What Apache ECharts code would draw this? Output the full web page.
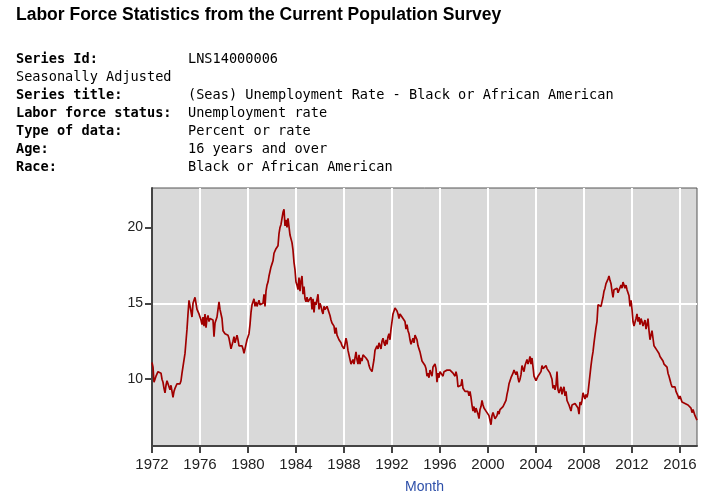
<!DOCTYPE html>
<html>
<head>
<meta charset="utf-8">
<script src="https://cdn.jsdelivr.net/npm/echarts@6/dist/echarts.min.js"></script>
<style>
html,body{margin:0;padding:0;background:#fff;}
#chart{width:705px;height:501px;}
</style>
</head>
<body>
<div id="chart"></div>
<script>
// ---- data (monthly, seasonally adjusted, starting Jan 1972) ----
const startYear = 1972;
const rate1970s = [
  11.1, 10.8, 9.8, 10.0, 10.2, 10.3, 10.5, 10.6, 10.6, 10.4, 10.0, 9.8,
  9.4, 9.1, 9.6, 9.9, 9.7, 9.7, 9.3, 9.6, 9.2, 8.8, 9.2, 9.4,
  9.4, 9.7, 9.6, 9.8, 9.7, 9.9, 10.4, 10.3, 10.5, 11.7, 12.5, 13.3,
  14.3, 15.2, 15.3, 15.1, 14.1, 15.0, 14.9, 15.4, 15.0, 14.6, 14.5, 14.3,
  14.3, 13.9, 13.6, 14.1, 13.5, 14.3, 13.4, 14.0, 14.2, 13.8, 14.0, 13.9,
  14.0, 13.9, 12.8, 13.7, 13.8, 14.1, 14.6, 15.1, 14.6, 14.3, 14.0, 13.2,
  13.1, 13.0, 13.0, 13.0, 12.9, 12.7, 12.8, 12.0, 11.9, 12.5, 12.8, 12.4,
  12.4, 12.9, 12.6, 12.2, 12.3, 12.3, 12.2, 12.0, 11.7, 12.0, 12.1, 12.6
];
const rate1980s = [
  12.7, 13.0, 13.6, 14.4, 14.9, 15.0, 15.3, 14.8, 15.1, 14.8, 15.0, 15.2,
  14.9, 14.8, 14.9, 15.0, 15.6, 14.8, 15.8, 16.2, 16.4, 16.8, 17.1, 17.4,
  17.6, 17.8, 18.3, 18.4, 18.6, 18.7, 18.8, 19.6, 20.0, 20.2, 20.6, 21.0,
  21.2, 20.1, 20.5, 20.0, 20.6, 20.7, 19.5, 19.6, 19.0, 18.5, 17.7, 17.2,
  16.4, 16.2, 15.9, 16.7, 15.8, 16.5, 16.8, 15.6, 16.1, 15.3, 15.1, 15.4,
  15.1, 15.2, 15.0, 15.4, 14.6, 15.3, 14.4, 15.1, 14.9, 15.0, 15.6, 14.6,
  15.0, 14.8, 14.5, 14.3, 14.8, 14.6, 14.5, 14.8, 14.9, 14.4, 14.2, 13.9,
  13.7, 13.8, 13.5, 13.0, 13.4, 12.9, 12.8, 12.6, 12.5, 12.4, 12.2, 12.1,
  12.0, 12.3, 12.7, 12.4, 11.9, 11.8, 11.3, 11.0, 11.1, 11.3, 11.0, 11.4,
  11.8, 11.3, 11.0, 11.6, 11.0, 11.4, 11.2, 11.6, 11.6, 11.5, 11.4, 11.3
];
const rate1990s = [
  11.2, 10.9, 10.7, 10.6, 10.5, 10.4, 11.3, 11.9, 12.0, 12.2, 12.0, 12.4,
  12.3, 12.0, 12.5, 12.7, 12.4, 12.2, 12.6, 12.3, 12.8, 13.0, 12.6, 13.3,
  13.8, 14.3, 14.5, 14.7, 14.6, 14.5, 14.3, 14.0, 14.3, 14.2, 14.4, 14.0,
  13.9, 13.8, 13.3, 13.6, 13.2, 13.0, 12.6, 12.3, 12.5, 12.7, 12.4, 12.9,
  13.0, 12.6, 12.2, 12.0, 11.8, 11.5, 11.2, 11.1, 11.3, 10.9, 10.7, 10.2,
  10.4, 10.1, 10.6, 10.4, 10.2, 10.8, 10.7, 11.0, 10.7, 9.8, 10.4, 10.1,
  10.5, 10.4, 10.6, 10.2, 10.5, 10.5, 10.6, 10.6, 10.7, 10.5, 10.6, 10.6,
  10.7, 10.4, 10.5, 10.2, 10.5, 10.2, 9.5, 9.5, 9.4, 9.6, 10.0, 9.4,
  9.4, 9.2, 9.3, 9.1, 9.2, 8.9, 9.2, 8.8, 8.3, 7.9, 8.2, 7.8,
  8.1, 8.2, 7.7, 7.4, 8.0, 8.2, 8.6, 8.3, 8.1, 8.2, 7.9, 7.8
];
const rate2000s = [
  8.0, 7.6, 7.3, 7.0, 7.6, 7.8, 7.9, 7.4, 7.3, 7.6, 7.9, 7.7,
  8.0, 8.1, 7.9, 8.2, 8.2, 8.3, 8.6, 9.0, 9.3, 9.7, 9.9, 10.1,
  10.2, 10.4, 10.6, 10.5, 10.3, 10.5, 10.1, 9.8, 10.0, 10.3, 10.9, 10.7,
  10.5, 10.9, 10.8, 11.3, 11.0, 11.2, 11.5, 11.0, 11.4, 11.4, 10.2, 10.1,
  9.9, 10.0, 10.2, 10.3, 10.2, 10.5, 10.9, 10.7, 10.8, 10.6, 10.9, 10.7,
  10.7, 10.7, 10.4, 10.2, 10.0, 9.4, 9.6, 9.3, 9.6, 10.5, 9.3, 9.1,
  9.2, 9.5, 9.0, 9.3, 9.5, 8.9, 9.2, 8.6, 8.5, 8.3, 8.4, 7.9,
  8.3, 8.4, 8.3, 8.4, 8.5, 8.3, 8.1, 7.7, 8.5, 8.3, 8.6, 9.1,
  9.0, 8.7, 9.0, 8.8, 9.1, 9.7, 10.3, 10.9, 11.4, 11.8, 12.4, 12.9,
  13.4, 13.8, 14.9, 15.0, 14.9, 14.8, 14.8, 15.4, 15.8, 16.0, 16.3, 16.3
];
const rate2010s = [
  16.6, 16.8, 16.5, 16.3, 15.8, 15.4, 15.9, 16.0, 15.9, 16.0, 15.7, 15.6,
  15.8, 16.2, 16.0, 16.4, 16.2, 16.0, 16.2, 15.9, 16.0, 15.5, 14.8, 15.2,
  14.6, 13.8, 13.5, 13.6, 14.0, 14.3, 13.8, 14.1, 13.6, 14.0, 13.8, 13.5,
  13.6, 13.9, 13.3, 13.6, 14.0, 13.2, 12.6, 12.9, 13.2, 12.7, 12.2, 12.1,
  12.2, 11.9, 11.8, 11.7, 11.5, 11.4, 11.5, 11.2, 11.0, 10.9, 11.0, 10.8,
  10.4, 10.2, 10.3, 9.7, 9.5, 9.6, 9.4, 9.5, 9.2, 9.3, 8.9, 8.7,
  8.9, 8.8, 8.5, 8.4, 8.6, 8.4, 8.4, 8.5, 8.3, 8.2, 8.3, 8.1,
  7.8, 8.0, 7.8, 7.6, 7.5, 7.3
];
const xTickYears = [1972, 1976, 1980, 1984, 1988, 1992, 1996, 2000, 2004, 2008, 2012, 2016];
const yTickValues = [10, 15, 20];
const headerTitle = 'Labor Force Statistics from the Current Population Survey';
const headerLabels = ['Series Id:', 'Seasonally Adjusted', 'Series title:', 'Labor force status:', 'Type of data:', 'Age:', 'Race:'];
const headerBold = [true, false, true, true, true, true, true];
const headerValues = ['LNS14000006', '', '(Seas) Unemployment Rate - Black or African American', 'Unemployment rate', 'Percent or rate', '16 years and over', 'Black or African American'];

// ---- build ----
const rates = [].concat(rate1970s, rate1980s, rate1990s, rate2000s, rate2010s);
const months = rates.map(function (v, i) {
  const y = startYear + Math.floor(i / 12);
  const m = (i % 12) + 1;
  return y + '-' + (m < 10 ? '0' + m : '' + m);
});
function isYearTick(idx) {
  return idx % 12 === 0 && xTickYears.indexOf(startYear + idx / 12) >= 0;
}

const mono = '"DejaVu Sans Mono", "Liberation Mono", monospace';
const sans = '"Liberation Sans", Arial, sans-serif';
const graphics = [{
  type: 'text', x: 16, y: 15.4, silent: true,
  style: { text: headerTitle, font: 'bold 17.5px ' + sans, fill: '#000', verticalAlign: 'middle', align: 'left' }
}];
headerLabels.forEach(function (lab, i) {
  const yy = 59.3 + 18 * i;
  graphics.push({
    type: 'text', x: 16, y: yy, silent: true,
    style: { text: lab, font: (headerBold[i] ? 'bold ' : '') + '13.6px ' + mono, fill: '#000', verticalAlign: 'middle', align: 'left' }
  });
  if (headerValues[i]) {
    graphics.push({
      type: 'text', x: 188, y: yy, silent: true,
      style: { text: headerValues[i], font: '13.6px ' + mono, fill: '#000', verticalAlign: 'middle', align: 'left' }
    });
  }
});

const chart = echarts.init(document.getElementById('chart'), null, { renderer: 'canvas', width: 705, height: 501 });
chart.setOption({
  animation: false,
  backgroundColor: '#ffffff',
  graphic: graphics,
  grid: {
    left: 152, right: 8, top: 188, bottom: 55,
    show: true, backgroundColor: '#d9d9d9', borderColor: '#555', borderWidth: 1,
    containLabel: false, outerBoundsMode: 'none'
  },
  xAxis: {
    type: 'category',
    data: months,
    boundaryGap: false,
    name: 'Month',
    nameLocation: 'middle',
    nameGap: 34,
    nameTextStyle: { color: '#2d4fa9', fontSize: 14, fontFamily: sans },
    axisLine: { show: true, lineStyle: { color: '#444', width: 2 } },
    axisTick: { show: true, length: 7, interval: function (idx) { return isYearTick(idx); }, lineStyle: { color: '#444', width: 2 } },
    axisLabel: {
      interval: function (idx) { return isYearTick(idx); },
      formatter: function (v) { return v.slice(0, 4); },
      fontSize: 15, color: '#222', fontFamily: sans, margin: 11
    },
    splitLine: { show: true, interval: function (idx) { return isYearTick(idx) && idx > 0; }, lineStyle: { color: '#ffffff', width: 2 } }
  },
  yAxis: {
    type: 'value',
    min: 5.6, max: 22.6,
    minInterval: 5, maxInterval: 5, splitNumber: 3,
    axisLine: { show: true, lineStyle: { color: '#444', width: 2 } },
    axisTick: { show: true, length: 7, customValues: yTickValues, lineStyle: { color: '#444', width: 2 } },
    axisLabel: { customValues: yTickValues, fontSize: 14, color: '#222', fontFamily: sans, margin: 9 },
    splitLine: { show: true, showMinLine: false, showMaxLine: false, lineStyle: { color: '#ffffff', width: 2 } }
  },
  series: [{
    type: 'line',
    data: rates,
    symbol: 'none',
    silent: true,
    sampling: null,
    lineStyle: { color: '#a00000', width: 1.7 }
  }]
});
</script>
</body>
</html>
